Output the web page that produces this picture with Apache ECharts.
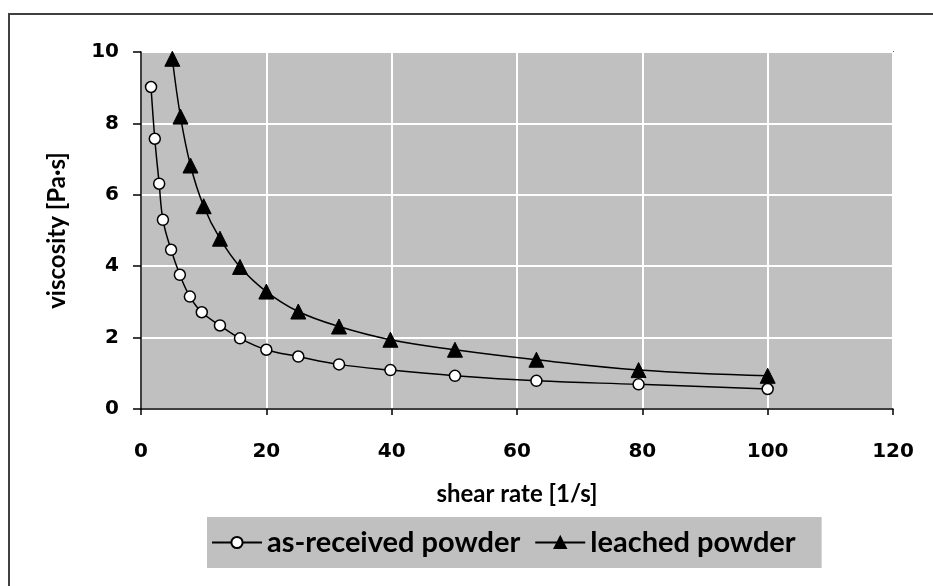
<!DOCTYPE html>
<html>
<head>
<meta charset="utf-8">
<script src="https://cdn.jsdelivr.net/npm/echarts@6/dist/echarts.min.js"></script>
<style>
html,body{margin:0;padding:0;background:#fff;}
#chart{width:933px;height:586px;}
</style>
</head>
<body>
<div id="chart"></div>
<script>
// shear rate [1/s] and viscosity [Pa·s]
var asReceivedRate = [1.6, 2.2, 2.9, 3.5, 4.8, 6.2, 7.8, 9.7, 12.6, 15.8, 20, 25.1, 31.6, 39.8, 50.1, 63.1, 79.4, 100];
var asReceivedVisc = [9.02, 7.57, 6.31, 5.30, 4.46, 3.76, 3.15, 2.71, 2.34, 1.98, 1.66, 1.47, 1.25, 1.09, 0.93, 0.79, 0.69, 0.56];
var leachedRate = [5.0, 6.3, 7.9, 10, 12.6, 15.8, 20, 25.1, 31.6, 39.8, 50.1, 63.1, 79.4, 100];
var leachedVisc = [9.81, 8.19, 6.82, 5.68, 4.77, 3.98, 3.29, 2.73, 2.31, 1.94, 1.66, 1.38, 1.09, 0.93];
var xTicks = [0, 20, 40, 60, 80, 100, 120];
var yTicks = [0, 2, 4, 6, 8, 10];
var seriesNames = ['as-received powder', 'leached powder'];

function pairs(xs, ys){ return xs.map(function(x,i){ return [x, ys[i]]; }); }

var chart = echarts.init(document.getElementById('chart'));
var tickFont = {fontFamily:'DejaVu Sans', fontWeight:'bold', fontSize:20, color:'#000'};
chart.setOption({
  backgroundColor:'#fff',
  animation:false,
  grid:{left:141, right:40, top:52, bottom:177, show:true, backgroundColor:'#c0c0c0', borderColor:'#000', borderWidth:1.5},
  xAxis:{
    type:'value', min:xTicks[0], max:xTicks[xTicks.length-1], interval:20,
    name:'shear rate [1/s]', nameLocation:'middle', nameGap:73,
    nameTextStyle:{fontFamily:'Lato', fontWeight:'bold', fontSize:24, color:'#000'},
    axisLine:{lineStyle:{color:'#000', width:1.5}},
    axisTick:{show:true, inside:false, length:6, lineStyle:{color:'#000', width:1.5}},
    axisLabel:Object.assign({margin:33}, tickFont),
    splitLine:{show:true, lineStyle:{color:'#fff', width:2}}
  },
  yAxis:{
    type:'value', min:yTicks[0], max:yTicks[yTicks.length-1], interval:2,
    name:'viscosity [Pa·s]', nameLocation:'middle', nameGap:72,
    nameTextStyle:{fontFamily:'Lato', fontWeight:'bold', fontSize:24, color:'#000'},
    axisLine:{show:true, lineStyle:{color:'#000', width:1.5}},
    axisTick:{show:true, inside:false, length:8, lineStyle:{color:'#000', width:1.5}},
    axisLabel:Object.assign({margin:22}, tickFont),
    splitLine:{show:true, lineStyle:{color:'#fff', width:2}}
  },
  legend:{
    left:207, top:517, backgroundColor:'#c0c0c0', padding:[11, 26, 11, 4],
    itemWidth:50, itemHeight:14, itemGap:14,
    textStyle:{fontFamily:'Lato', fontWeight:'bold', fontSize:29, color:'#000'},
    data:seriesNames
  },
  graphic:[{type:'rect', shape:{x:9, y:14, width:1000, height:1000}, style:{fill:null, stroke:'#404040', lineWidth:2}, silent:true}],
  series:[
    {
      name:seriesNames[0], type:'line', data:pairs(asReceivedRate, asReceivedVisc),
      smooth:0.4, symbol:'circle', symbolSize:11,
      lineStyle:{color:'#000', width:1.5},
      itemStyle:{color:'#fff', borderColor:'#000', borderWidth:1.5}
    },
    {
      name:seriesNames[1], type:'line', data:pairs(leachedRate, leachedVisc),
      smooth:0.4, symbol:'triangle', symbolSize:15,
      lineStyle:{color:'#000', width:1.5},
      itemStyle:{color:'#000', borderColor:'#000', borderWidth:1}
    }
  ]
});
</script>
</body>
</html>
